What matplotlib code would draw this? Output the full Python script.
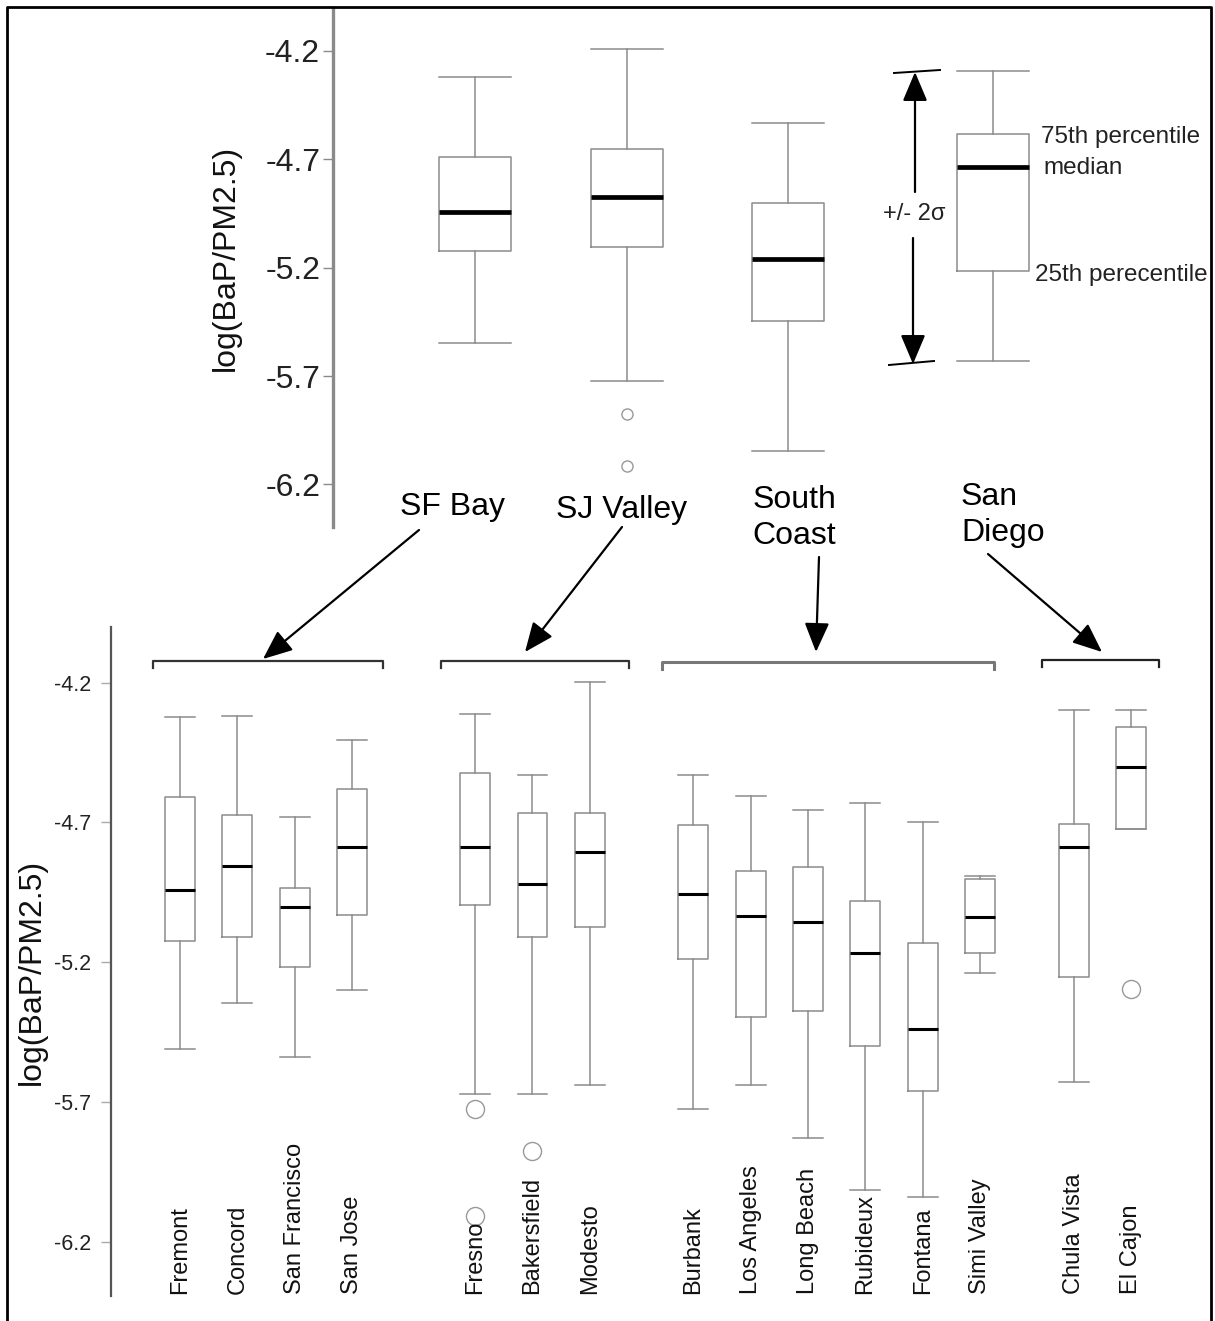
import numpy as np
import matplotlib.pyplot as plt
from matplotlib import font_manager
from matplotlib.lines import Line2D
from matplotlib.patches import FancyArrowPatch
from matplotlib.transforms import blended_transform_factory

W, H = 1215, 1321

# ---- top panel: regions ----
regions = ['SF Bay', 'SJ Valley', 'South Coast', 'San Diego']
reg_whislo = [-5.548, -5.723, -6.044, -5.631]
reg_q1 = [-5.124, -5.107, -5.447, -5.216]
reg_med = [-4.945, -4.875, -5.159, -4.738]
reg_q3 = [-4.689, -4.652, -4.901, -4.582]
reg_whishi = [-4.322, -4.192, -4.535, -4.294]
reg_fliers = [[], [-5.876, -6.114], [], []]

# ---- bottom panel: sites ----
sites = ['Fremont', 'Concord', 'San Francisco', 'San Jose',
         'Fresno', 'Bakersfield', 'Modesto',
         'Burbank', 'Los Angeles', 'Long Beach', 'Rubideux', 'Fontana', 'Simi Valley',
         'Chula Vista', 'El Cajon']
site_group = [0, 0, 0, 0, 1, 1, 1, 2, 2, 2, 2, 2, 2, 3, 3]
site_whislo = [-5.510, -5.345, -5.538, -5.300, -5.672, -5.672, -5.640,
               -5.726, -5.640, -5.828, -6.015, -6.039, -5.238, -5.629, -4.723]
site_q1 = [-5.123, -5.111, -5.217, -5.032, -4.995, -5.111, -5.075,
           -5.190, -5.397, -5.376, -5.498, -5.661, -5.167, -5.253, -4.723]
site_med = [-4.941, -4.856, -5.003, -4.789, -4.787, -4.920, -4.807,
            -4.957, -5.035, -5.057, -5.167, -5.440, -5.040, -4.787, -4.503]
site_q3 = [-4.610, -4.674, -4.933, -4.581, -4.524, -4.667, -4.667,
           -4.711, -4.875, -4.860, -4.982, -5.132, -4.902, -4.704, -4.359]
site_whishi = [-4.325, -4.320, -4.682, -4.404, -4.312, -4.529, -4.197,
               -4.532, -4.604, -4.655, -4.631, -4.698, -4.891, -4.297, -4.297]
site_fliers = [[], [], [], [], [-5.724, -6.107], [-5.873], [], [],
               [], [], [], [], [], [], [-5.295]]

yticks = [-4.2, -4.7, -5.2, -5.7, -6.2]

# layout
top_pos = [1, 2, 3.067, 4.42]
group_gap = [0, 2.14, 1.80, 1.63]

names = {f.name for f in font_manager.fontManager.ttflist}
if 'Liberation Sans Narrow' in names:
    site_font, site_size = 'Liberation Sans Narrow', 20
else:
    site_font, site_size = 'Liberation Sans', 17
plt.rcParams['font.family'] = ['Liberation Sans', 'DejaVu Sans']


def px(x, y):
    return (x / W, 1 - y / H)


def make_stats(lo, q1, med, q3, hi, fl):
    return [dict(whislo=a, q1=b, med=c, q3=d, whishi=e, fliers=f)
            for a, b, c, d, e, f in zip(lo, q1, med, q3, hi, fl)]


fig = plt.figure(figsize=(W / 100, H / 100), dpi=100)

grey = '#8c8c8c'

# top axes
ax1 = fig.add_axes([332.7 / W, 1 - 527 / H, (1211 - 332.7) / W, (527 - 8) / H])
ax1.bxp(make_stats(reg_whislo, reg_q1, reg_med, reg_q3, reg_whishi, reg_fliers),
        positions=top_pos, widths=0.476, capwidths=0.476, manage_ticks=False,
        boxprops=dict(color=grey, lw=1.1), whiskerprops=dict(color=grey, lw=1.1),
        capprops=dict(color=grey, lw=1.1), medianprops=dict(color='black', lw=3.4),
        flierprops=dict(marker='o', mfc='none', mec='#999999', ms=8, mew=1))
ax1.set_xlim(0.058, 5.859)
ax1.set_ylim(-6.396, -4.003)
ax1.set_yticks(yticks)
ax1.set_yticklabels([str(v) for v in yticks])
ax1.set_xticks([])
for s in ['top', 'right', 'bottom']:
    ax1.spines[s].set_visible(False)
ax1.spines['left'].set_color('#8a8a8a')
ax1.spines['left'].set_linewidth(2.4)
ax1.tick_params(axis='y', length=7, width=1, color='#8a8a8a', labelsize=23,
                labelcolor='#222222', pad=2)
ax1.patch.set_visible(False)

# bottom axes: slot positions, with extra space between region groups
site_pos = []
p = 0.0
for i, g in enumerate(site_group):
    if i > 0:
        p += group_gap[g] if g != site_group[i - 1] else 1
    site_pos.append(p)

ax2 = fig.add_axes([111 / W, 1 - 1296 / H, (1211 - 111) / W, (1296 - 626.7) / H])
ax2.bxp(make_stats(site_whislo, site_q1, site_med, site_q3, site_whishi, site_fliers),
        positions=site_pos, widths=0.52, capwidths=0.52, manage_ticks=False,
        boxprops=dict(color=grey, lw=1.1), whiskerprops=dict(color=grey, lw=1.1),
        capprops=dict(color=grey, lw=1.1), medianprops=dict(color='black', lw=2.2),
        flierprops=dict(marker='o', mfc='none', mec='#999999', ms=13, mew=1))
ax2.set_xlim(-1.202, 17.96)
ax2.set_ylim(-6.393, -4.0005)
ax2.set_yticks(yticks)
ax2.set_yticklabels([str(v) for v in yticks])
ax2.set_xticks([])
for s in ['top', 'right', 'bottom']:
    ax2.spines[s].set_visible(False)
ax2.spines['left'].set_color('#555555')
ax2.spines['left'].set_linewidth(1.6)
ax2.tick_params(axis='y', length=7, width=1, color='#aaaaaa', labelsize=15.5,
                labelcolor='#222222', pad=7)
ax2.patch.set_visible(False)

tr = blended_transform_factory(ax2.transData, fig.transFigure)
for x, name in zip(site_pos, sites):
    ax2.text(x, 1 - 1294 / H, name, transform=tr, rotation=90, ha='center',
             va='bottom', fontsize=site_size, family=[site_font, 'DejaVu Sans'],
             color='#111111')

# y labels
fig.text(*px(226, 258), 'log(BaP/PM2.5)', rotation=90, ha='center', va='center',
         fontsize=23, color='#111111')
fig.text(*px(32, 972), 'log(BaP/PM2.5)', rotation=90, ha='center', va='center',
         fontsize=23, color='#111111')

# region labels
fig.text(*px(452, 507), 'SF Bay', ha='center', va='center', fontsize=23)
fig.text(*px(622, 510), 'SJ Valley', ha='center', va='center', fontsize=23)
fig.text(*px(794, 518), 'South\nCoast', ha='center', va='center', fontsize=23,
         linespacing=1.3)
fig.text(*px(961, 515), 'San\nDiego', ha='left', va='center', fontsize=23,
         linespacing=1.3)


def arrow(x0, y0, x1, y1):
    a = FancyArrowPatch(px(x0, y0), px(x1, y1), transform=fig.transFigure,
                        arrowstyle='-|>,head_length=0.9,head_width=0.38',
                        mutation_scale=20, lw=1.6, color='black',
                        shrinkA=0, shrinkB=0)
    fig.add_artist(a)


arrow(419, 530, 263, 659)
arrow(622, 527, 525, 652)
arrow(819, 557, 816, 652)
arrow(988, 554, 1102, 652)


def line(xs, ys, **kw):
    pts = [px(x, y) for x, y in zip(xs, ys)]
    fig.add_artist(Line2D([q[0] for q in pts], [q[1] for q in pts],
                          transform=fig.transFigure, **kw))


# brackets
line([153, 153, 383, 383], [668, 661, 661, 668], color='#333333', lw=1.6)
line([441, 441, 629, 629], [668, 661, 661, 668], color='#333333', lw=1.6)
line([662, 662, 994, 994], [669, 662, 662, 669], color='#777777', lw=2.2)
line([1042, 1042, 1159, 1159], [667, 660, 660, 667], color='#222222', lw=1.6)

# +/- 2 sigma annotation
arrow(915, 192, 915, 72)
arrow(913, 238, 913, 364)
line([894, 940], [73, 70], color='black', lw=1.4)
line([889, 934], [365, 361], color='black', lw=1.4)
fig.text(*px(914, 214), '+/- 2σ', ha='center', va='center', fontsize=17,
         color='#222222')
fig.text(*px(1041, 137), '75th percentile', ha='left', va='center', fontsize=17.5,
         color='#222222')
fig.text(*px(1043, 168), 'median', ha='left', va='center', fontsize=17.5,
         color='#222222')
fig.text(*px(1035, 275), '25th perecentile', ha='left', va='center', fontsize=17.5,
         color='#222222')

# outer frame
line([7, 7, 1211, 1211], [H + 5, 7, 7, H + 5], color='black', lw=2)

plt.savefig('out.png', dpi=100)
